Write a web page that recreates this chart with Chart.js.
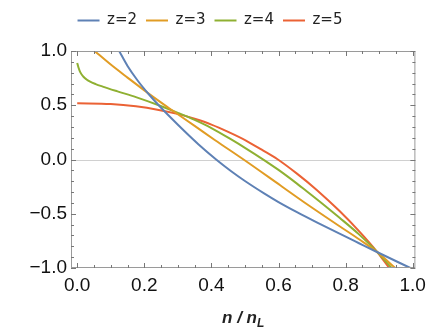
<!DOCTYPE html>
<html>
<head>
<meta charset="utf-8">
<script src="https://cdn.jsdelivr.net/npm/chart.js@4"></script>
<style>
  html, body { margin: 0; padding: 0; background: #fff; }
</style>
</head>
<body>
<canvas id="chart" width="432" height="330"></canvas>
<script>
// series
const seriesLabels = ["z=2", "z=3", "z=4", "z=5"];
const seriesColors = ["#5E81B5", "#E19C24", "#8FB032", "#EB6235"];

const z2X = [0.125, 0.15, 0.18, 0.214, 0.243, 0.28, 0.32, 0.361, 0.415, 0.459, 0.5, 0.557, 0.6, 0.655, 0.714, 0.782, 0.84, 0.895, 0.993];
const z2Y = [1.0, 0.862, 0.728, 0.599, 0.5, 0.382, 0.26, 0.141, -0.002, -0.108, -0.198, -0.312, -0.392, -0.485, -0.579, -0.684, -0.772, -0.855, -1.0];

const z3X = [0.052, 0.1, 0.15, 0.214, 0.273, 0.35, 0.41, 0.498, 0.606, 0.684, 0.782, 0.84, 0.895, 0.948];
const z3Y = [1.0, 0.875, 0.755, 0.605, 0.475, 0.31, 0.18, -0.005, -0.24, -0.41, -0.615, -0.735, -0.855, -1.0];

const z4X = [0.0, 0.004, 0.009, 0.018, 0.027, 0.037, 0.055, 0.076, 0.12, 0.175, 0.243, 0.302, 0.35, 0.4, 0.459, 0.5, 0.557, 0.6, 0.655, 0.684, 0.73, 0.782, 0.84, 0.895, 0.937];
const z4Y = [0.89, 0.845, 0.805, 0.765, 0.74, 0.72, 0.695, 0.672, 0.628, 0.575, 0.5, 0.428, 0.365, 0.29, 0.185, 0.108, -0.005, -0.096, -0.222, -0.292, -0.405, -0.537, -0.69, -0.855, -1.0];

const z5X = [0.0, 0.1, 0.175, 0.243, 0.302, 0.35, 0.4, 0.45, 0.503, 0.55, 0.596, 0.655, 0.714, 0.782, 0.84, 0.895, 0.93];
const z5Y = [0.518, 0.511, 0.49, 0.457, 0.418, 0.375, 0.322, 0.255, 0.175, 0.09, 0.005, -0.13, -0.28, -0.475, -0.66, -0.855, -1.0];

const xTicks = [0, 0.2, 0.4, 0.6, 0.8, 1.0];
const yTicks = [-1, -0.5, 0, 0.5, 1];

const seriesX = [z2X, z3X, z4X, z5X];
const seriesY = [z2Y, z3Y, z4Y, z5Y];

const fmt = v => (v < 0 ? "\u2212" + Math.abs(v).toFixed(1) : v.toFixed(1));

// frame with inward ticks, plus the light zero line
const framePlugin = {
  id: "frame",
  beforeUpdate(chart) {
    // leave a gap between legend and plot
    const lg = chart.legend;
    if (lg && !lg._gap) {
      const fit = lg.fit.bind(lg);
      lg.fit = function () { fit(); this.height += 13; };
      lg._gap = true;
    }
  },
  beforeDatasetsDraw(chart) {
    const { ctx, chartArea: a, scales: { y } } = chart;
    const y0 = Math.round(y.getPixelForValue(0)) + 0.5;
    ctx.save();
    ctx.strokeStyle = "#d0d0d0";
    ctx.lineWidth = 1.2;
    ctx.beginPath();
    ctx.moveTo(a.left, y0);
    ctx.lineTo(a.right, y0);
    ctx.stroke();
    ctx.restore();
  },
  afterDatasetsDraw(chart) {
    const { ctx, chartArea: a, scales: { x, y } } = chart;
    ctx.save();
    ctx.lineWidth = 1;
    ctx.strokeStyle = "#9a9a9a";
    ctx.strokeRect(a.left + 0.5, a.top + 0.5, a.right - a.left - 1, a.bottom - a.top - 1);
    ctx.strokeStyle = "#777";
    ctx.beginPath();
    for (let i = 0; i <= 20; i++) {
      const px = Math.round(x.getPixelForValue(i * 0.05)) + 0.5;
      const len = i % 4 === 0 ? 5 : 3;
      ctx.moveTo(px, a.bottom); ctx.lineTo(px, a.bottom - len);
      ctx.moveTo(px, a.top); ctx.lineTo(px, a.top + len);
    }
    for (let i = -10; i <= 10; i++) {
      const py = Math.round(y.getPixelForValue(i / 10)) + 0.5;
      const len = i % 5 === 0 ? 5 : 3;
      ctx.moveTo(a.left, py); ctx.lineTo(a.left + len, py);
      ctx.moveTo(a.right, py); ctx.lineTo(a.right - len, py);
    }
    ctx.stroke();
    ctx.restore();
  },
  afterDraw(chart) {
    // axis title n/n_L with a subscript
    const { ctx, chartArea: a } = chart;
    ctx.save();
    ctx.fillStyle = "#222";
    ctx.textBaseline = "alphabetic";
    const big = "italic bold 17px 'Liberation Sans', Arial, sans-serif";
    const small = "italic bold 12px 'Liberation Sans', Arial, sans-serif";
    ctx.font = big;
    const w1 = ctx.measureText("n / n").width;
    ctx.font = small;
    const w2 = ctx.measureText("L").width;
    const cx = (a.left + a.right) / 2;
    const x0 = cx - (w1 + w2) / 2;
    ctx.font = big;
    ctx.fillText("n / n", x0, 323);
    ctx.font = small;
    ctx.fillText("L", x0 + w1, 327);
    ctx.restore();
  }
};

const datasets = seriesLabels.map((label, i) => ({
  label,
  data: seriesX[i].map((xv, j) => ({ x: xv, y: seriesY[i][j] })),
  borderColor: seriesColors[i],
  backgroundColor: seriesColors[i],
  borderWidth: 2,
  pointRadius: 0,
  cubicInterpolationMode: "monotone",
  fill: false
}));

new Chart(document.getElementById("chart"), {
  type: "line",
  data: { datasets },
  plugins: [framePlugin],
  options: {
    responsive: false,
    animation: false,
    layout: { padding: { top: 4, right: 12, left: 0, bottom: 0 } },
    plugins: {
      legend: {
        position: "top",
        labels: {
          usePointStyle: true,
          pointStyle: "line",
          pointStyleWidth: 22,
          padding: 9,
          color: "#222",
          font: { family: "'DejaVu Sans', sans-serif", size: 15 }
        }
      },
      tooltip: { enabled: false }
    },
    scales: {
      x: {
        type: "linear",
        min: -0.0185,
        max: 1.008,
        grid: { display: false, drawTicks: false },
        border: { display: false },
        afterBuildTicks: s => { s.ticks = xTicks.map(v => ({ value: v })); },
        afterFit: s => { s.height = 62; },
        ticks: {
          padding: 6,
          color: "#111",
          maxRotation: 0,
          autoSkip: false,
          font: { family: "'Liberation Sans', Arial, sans-serif", size: 19 },
          callback: v => fmt(v)
        }
      },
      y: {
        min: -1,
        max: 1,
        grid: { display: false, drawTicks: false },
        border: { display: false },
        afterBuildTicks: s => { s.ticks = yTicks.map(v => ({ value: v })); },
        afterFit: s => { s.width = 71; },
        ticks: {
          padding: 4,
          color: "#111",
          autoSkip: false,
          font: { family: "'Liberation Sans', Arial, sans-serif", size: 19 },
          callback: v => fmt(v)
        }
      }
    }
  }
});
</script>
</body>
</html>
